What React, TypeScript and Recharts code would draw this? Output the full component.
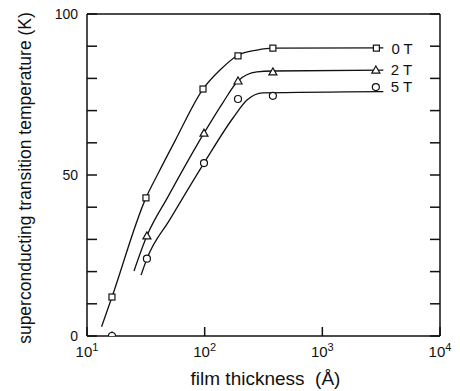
import React from 'react';
import { ComposedChart, Line, Scatter, XAxis, YAxis } from 'recharts';

const xTicks = [10, 100, 1000, 10000];
const xTickExponents = ['1', '2', '3', '4'];
const yTicks = [0, 10, 20, 30, 40, 50, 60, 70, 80, 90, 100];
const yLabelled = [0, 50, 100];

// drawn curves
const curve0TX = [13.3, 16.3, 31.7, 40, 56, 96.8, 135, 192, 278, 380, 3300];
const curve0TY = [2.9, 12.1, 42.9, 50.3, 60.6, 76.7, 82.6, 87.2, 88.8, 89.4, 89.5];
const curve2TX = [25.1, 32.3, 48.7, 98.7, 143, 192, 278, 380, 3300];
const curve2TY = [20.2, 31.1, 43.2, 63, 72.5, 79.2, 82, 82.3, 82.6];
const curve5TX = [28.8, 32.3, 50.7, 98.7, 174, 229, 313, 3300];
const curve5TY = [18.9, 24, 36.2, 53.7, 67.7, 73.3, 75.5, 75.9];

// measured points
const squareX = [16.3, 31.7, 96.8, 192, 380, 2880];
const squareY = [12.1, 42.9, 76.7, 87, 89.4, 89.4];
const triangleX = [16.3, 32.3, 98.7, 192, 380, 2850];
const triangleY = [0, 31.1, 63, 79.2, 82, 82.6];
const circleX = [16.3, 32.3, 98.7, 192, 380, 2850];
const circleY = [0, 24, 53.7, 73.6, 74.6, 77.3];

const fieldLabels = ['0 T', '2 T', '5 T'];

const FONT = '"Liberation Sans", Arial, Helvetica, sans-serif';
const INK = '#111';

const zip = (xs: number[], ys: number[]) => xs.map((x, i) => ({ x, y: ys[i] }));
const withLabel = (xs: number[], ys: number[], label: string) =>
  xs.map((x, i) => ({ x, y: ys[i], label: i === xs.length - 1 ? label : undefined }));

const markerLabel = (p: any) =>
  p.payload && p.payload.label ? (
    <text x={p.cx + 15} y={p.cy} dy="0.36em" fontSize={15} fill={INK} fontFamily={FONT}>
      {p.payload.label}
    </text>
  ) : null;

const SquareMark = (p: any) => (
  <g>
    <rect x={p.cx - 3} y={p.cy - 3} width={6} height={6} fill="#fff" stroke={INK} strokeWidth={1.2} />
    {markerLabel(p)}
  </g>
);
const TriangleMark = (p: any) => (
  <g>
    <polygon
      points={`${p.cx},${p.cy - 4} ${p.cx - 4},${p.cy + 3} ${p.cx + 4},${p.cy + 3}`}
      fill="#fff"
      stroke={INK}
      strokeWidth={1.2}
    />
    {markerLabel(p)}
  </g>
);
const CircleMark = (p: any) => (
  <g>
    <circle cx={p.cx} cy={p.cy} r={3.5} fill="#fff" stroke={INK} strokeWidth={1.2} />
    {markerLabel(p)}
  </g>
);

const BottomTick = ({ x, y, payload }: any) => (
  <g>
    <line x1={x} x2={x} y1={y} y2={y - 9} stroke={INK} strokeWidth={1.5} />
    <text x={x} y={y + 21} textAnchor="middle" fontSize={15} fill={INK} fontFamily={FONT}>
      10
      <tspan dy={-6} fontSize={11}>
        {xTickExponents[xTicks.indexOf(payload.value)]}
      </tspan>
    </text>
  </g>
);
const TopTick = ({ x, y }: any) => <line x1={x} x2={x} y1={y} y2={y + 9} stroke={INK} strokeWidth={1.5} />;
const LeftTick = ({ x, y, payload }: any) => (
  <g>
    <line x1={x} x2={x + 10} y1={y} y2={y} stroke={INK} strokeWidth={1.5} />
    {yLabelled.includes(payload.value) && (
      <text x={x - 9} y={y} dy="0.36em" textAnchor="end" fontSize={14} fill={INK} fontFamily={FONT}>
        {payload.value}
      </text>
    )}
  </g>
);
const RightTick = ({ x, y }: any) => <line x1={x} x2={x - 10} y1={y} y2={y} stroke={INK} strokeWidth={1.5} />;

const YTitle = ({ viewBox }: any) => {
  const cx = viewBox.x + 31;
  const cy = viewBox.y + viewBox.height / 2 + 3;
  return (
    <text x={cx} y={cy} transform={`rotate(-90 ${cx} ${cy})`} textAnchor="middle" fontSize={17.5} fill={INK} fontFamily={FONT}>
      superconducting transition temperature (K)
    </text>
  );
};
const XTitle = ({ viewBox }: any) => (
  <text x={viewBox.x + viewBox.width / 2 + 2} y={viewBox.y + 49} textAnchor="middle" fontSize={19} fill={INK} fontFamily={FONT} xmlSpace="preserve">
    {'film thickness  (\u00c5)'}
  </text>
);

const axisLine = { stroke: INK, strokeWidth: 1.5 };

export default function App() {
  return (
    <div style={{ position: 'absolute', left: 0, top: 0, background: '#fff' }}>
      <ComposedChart width={460} height={391} margin={{ top: 0, right: 0, bottom: 0, left: 0 }}>
        <XAxis
          dataKey="x"
          type="number"
          scale="log"
          domain={[10, 10000]}
          ticks={xTicks}
          allowDataOverflow
          height={55}
          tickSize={0}
          tickMargin={0}
          tickLine={false}
          axisLine={axisLine}
          tick={<BottomTick />}
          label={<XTitle />}
        />
        <XAxis
          xAxisId="top"
          orientation="top"
          type="number"
          scale="log"
          domain={[10, 10000]}
          ticks={xTicks}
          allowDataOverflow
          height={14}
          tickSize={0}
          tickMargin={0}
          tickLine={false}
          axisLine={axisLine}
          tick={<TopTick />}
        />
        <YAxis
          dataKey="y"
          type="number"
          domain={[0, 100]}
          ticks={yTicks}
          allowDataOverflow
          width={87}
          tickSize={0}
          tickMargin={0}
          tickLine={false}
          axisLine={axisLine}
          tick={<LeftTick />}
          label={<YTitle />}
        />
        <YAxis
          yAxisId="right"
          orientation="right"
          type="number"
          domain={[0, 100]}
          ticks={yTicks}
          allowDataOverflow
          width={20}
          tickSize={0}
          tickMargin={0}
          tickLine={false}
          axisLine={axisLine}
          tick={<RightTick />}
        />
        <Line data={zip(curve0TX, curve0TY)} dataKey="y" type="monotone" stroke={INK} strokeWidth={1.3} dot={false} isAnimationActive={false} />
        <Line data={zip(curve2TX, curve2TY)} dataKey="y" type="monotone" stroke={INK} strokeWidth={1.3} dot={false} isAnimationActive={false} />
        <Line data={zip(curve5TX, curve5TY)} dataKey="y" type="monotone" stroke={INK} strokeWidth={1.3} dot={false} isAnimationActive={false} />
        <Scatter data={withLabel(squareX, squareY, fieldLabels[0])} shape={SquareMark} isAnimationActive={false} />
        <Scatter data={withLabel(triangleX, triangleY, fieldLabels[1])} shape={TriangleMark} isAnimationActive={false} />
        <Scatter data={withLabel(circleX, circleY, fieldLabels[2])} shape={CircleMark} isAnimationActive={false} />
      </ComposedChart>
    </div>
  );
}
